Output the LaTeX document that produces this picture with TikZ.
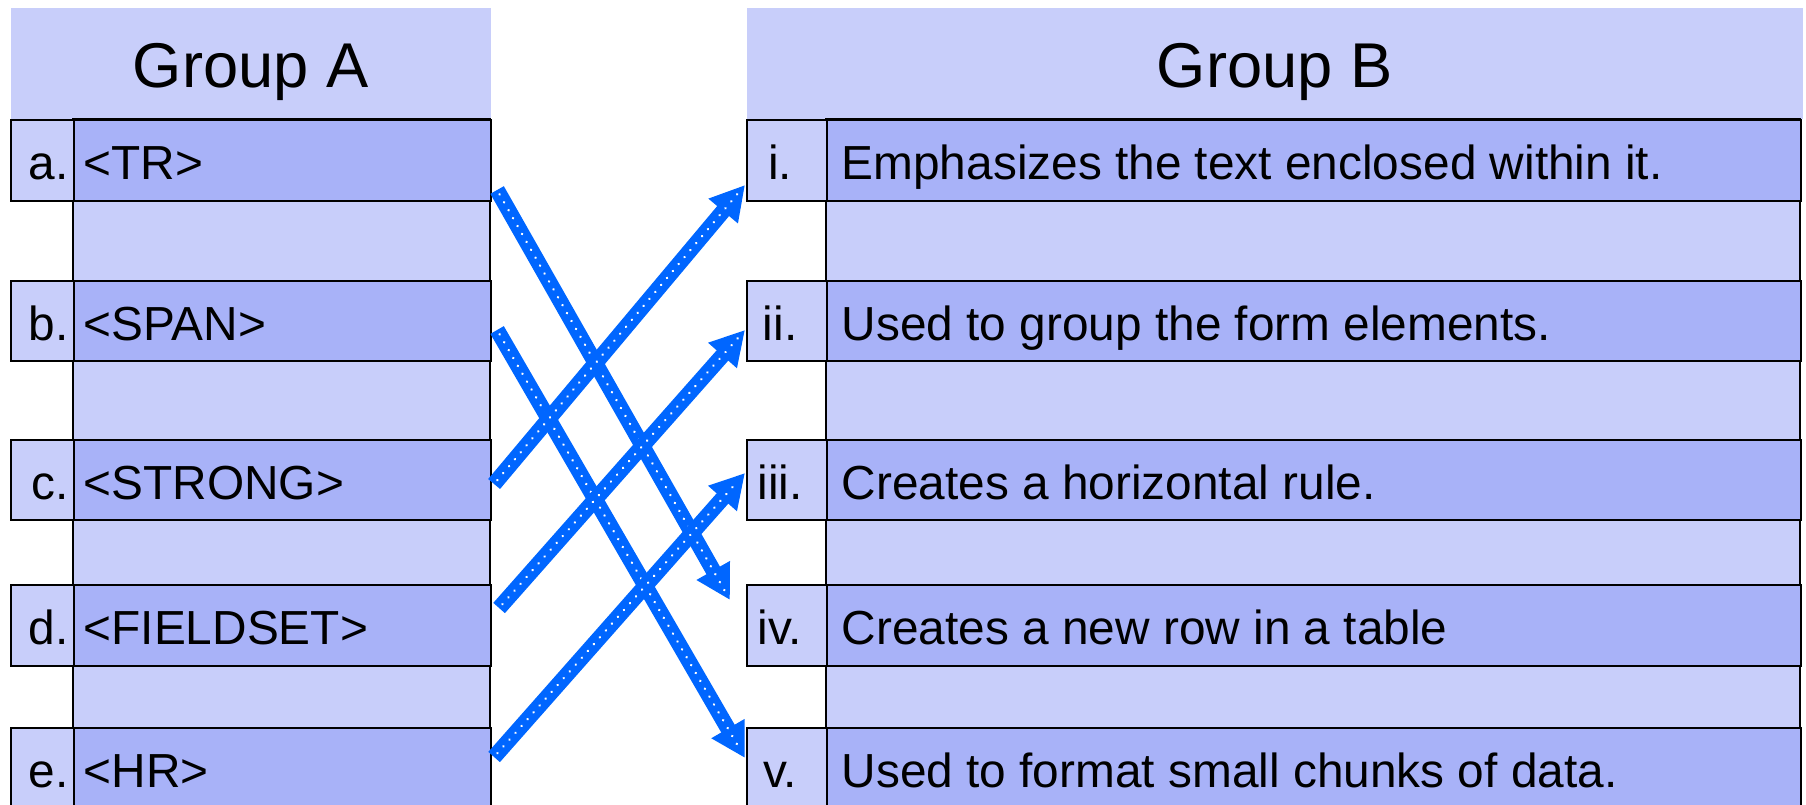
\documentclass[tikz,border=0pt]{standalone}
\usepackage{fontspec}
\setmainfont{Liberation Sans}
\usetikzlibrary{calc,arrows.meta}
\definecolor{lightc}{RGB}{200,206,250}
\definecolor{darkc}{RGB}{168,178,248}
\definecolor{arrc}{RGB}{0,102,255}
\tikzset{
  hdr/.style={fill=lightc, draw=none, inner sep=0pt, anchor=north west},
  hdrtxt/.style={inner sep=0pt, anchor=base, font=\fontsize{18}{20}\selectfont},
  lblcell/.style={draw=black, fill=lightc, line width=0.6pt, inner sep=0pt, anchor=north west},
  txtcell/.style={draw=black, fill=darkc, line width=0.6pt, inner sep=0pt, anchor=north west},
  txt/.style={inner sep=0pt, font=\fontsize{13.6}{16}\selectfont},
  conn/.style={draw=arrc, line width=0.155cm, -{Triangle[length=0.34cm,width=0.36cm]}},
  dots/.style={draw=white, line width=0.026cm, line cap=round, dash pattern=on 0.001cm off 0.09cm},
}
\begin{document}
\begin{tikzpicture}
\useasboundingbox (0,0) rectangle (18.06,-8.05);
% headers
\node[hdr, minimum width=4.80cm, minimum height=1.11cm] (hA) at (0.10,-0.07) {};
\node[hdr, minimum width=10.56cm, minimum height=1.11cm] (hB) at (7.46,-0.07) {};
\node[hdrtxt] (hAt) at ($(hA.north)+(0,-0.80)$) {Group A};
\node[hdrtxt] (hBt) at ($(hB.north)+(0,-0.80)$) {Group B};
% column backgrounds (gaps)
\draw[line width=0.6pt, fill=lightc] (0.73,-1.19) rectangle (4.90,-8.12);
\draw[line width=0.6pt, fill=lightc] (8.26,-1.19) rectangle (18.00,-8.12);
% left rows
\foreach \n/\y/\h/\l/\t in {a/1.19/0.81/a./{<TR>}, b/2.80/0.80/b./{<SPAN>}, c/4.39/0.80/c./{<STRONG>}, d/5.84/0.81/d./{<FIELDSET>}, e/7.27/0.85/e./{<HR>}}{
  \node[lblcell, minimum width=0.63cm, minimum height=\h cm] (l\n) at (0.10,-\y) {};
  \node[txtcell, minimum width=4.17cm, minimum height=\h cm] (\n) at (0.73,-\y) {};
  \node[txt, anchor=base east] (ln\n) at ($(l\n.north east)+(-0.06,-0.605)$) {\l};
  \node[txt, anchor=base west] (tn\n) at ($(\n.north west)+(0.10,-0.605)$) {\t};
}
% right rows
\foreach \n/\y/\h/\l/\t in {ri/1.19/0.81/i./{Emphasizes the text enclosed within it.}, rii/2.80/0.80/ii./{Used to group the form elements.}, riii/4.39/0.80/iii./{Creates a horizontal rule.}, riv/5.84/0.81/iv./{Creates a new row in a table}, rv/7.27/0.85/v./{Used to format small chunks of data.}}{
  \node[lblcell, minimum width=0.80cm, minimum height=\h cm] (l\n) at (7.46,-\y) {};
  \node[txtcell, minimum width=9.74cm, minimum height=\h cm] (\n) at (8.26,-\y) {};
  \node[txt, anchor=base] (ln\n) at ($(l\n.north)+(-0.07,-0.605)$) {\l};
  \node[txt, anchor=base west] (tn\n) at ($(\n.north west)+(0.15,-0.605)$) {\t};
}
% connector end points
\coordinate (s1) at ($(a.north east)+(0.05,-0.71)$);
\coordinate (t1) at ($(lriv.north west)+(-0.16,-0.16)$);
\coordinate (s2) at ($(b.north east)+(0.05,-0.50)$);
\coordinate (t2) at ($(lrv.north west)+(-0.01,-0.31)$);
\coordinate (s3) at ($(c.north east)+(0.02,-0.45)$);
\coordinate (t3) at ($(lri.north west)+(-0.01,-0.66)$);
\coordinate (s4) at ($(d.north east)+(0.07,-0.24)$);
\coordinate (t4) at ($(lrii.north west)+(-0.01,-0.50)$);
\coordinate (s5) at ($(e.north east)+(0.02,-0.30)$);
\coordinate (t5) at ($(lriii.north west)+(-0.01,-0.34)$);
\foreach \i in {1,...,5}{
  \draw[conn] (s\i) -- (t\i);
  \draw[dots, shorten <=0.05cm, shorten >=0.10cm] (s\i) -- (t\i);
}
\end{tikzpicture}
\end{document}
